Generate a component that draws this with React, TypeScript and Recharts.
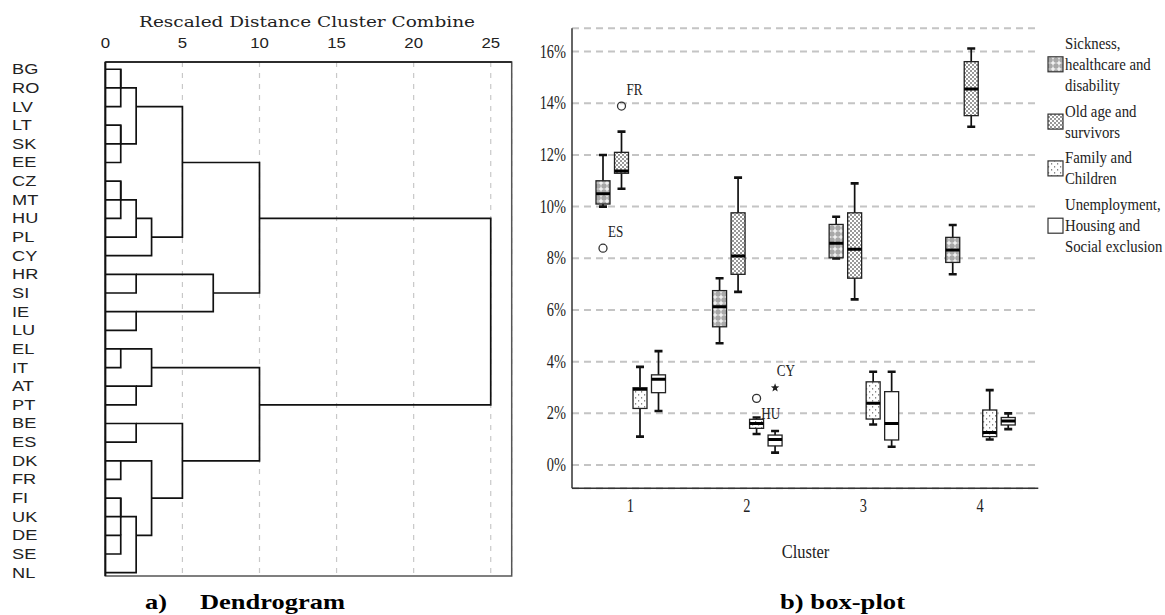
import React from 'react';
import {
  ScatterChart,
  Scatter,
  XAxis,
  YAxis,
  CartesianGrid,
  ReferenceArea,
  ComposedChart,
  Bar,
} from 'recharts';

// ---------------- Dendrogram data ----------------
const countries = ['BG', 'RO', 'LV', 'LT', 'SK', 'EE', 'CZ', 'MT', 'HU', 'PL', 'CY', 'HR', 'SI', 'IE', 'LU', 'EL', 'IT', 'AT', 'PT', 'BE', 'ES', 'DK', 'FR', 'FI', 'UK', 'DE', 'SE', 'NL'];
// agglomeration schedule: '#n' refers to the n-th merge
const mergeLeft = ['BG', '#0', 'LT', '#2', '#1', 'CZ', '#5', '#6', '#7', '#4', 'HR', 'IE', '#10', '#9', 'EL', 'AT', '#14', 'BE', 'DK', 'FI', 'DE', '#19', '#21', '#18', '#17', '#16', '#13'];
const mergeRight = ['RO', 'LV', 'SK', 'EE', '#3', 'MT', 'HU', 'PL', 'CY', '#8', 'SI', 'LU', '#11', '#12', 'IT', 'PT', '#15', 'ES', 'FR', 'UK', 'SE', '#20', 'NL', '#22', '#23', '#24', '#25'];
const mergeDistance = [1, 1, 1, 1, 2, 1, 1, 2, 3, 5, 2, 2, 7, 10, 1, 2, 3, 2, 1, 1, 1, 1, 2, 3, 5, 10, 25];
const distanceTicks = [0, 5, 10, 15, 20, 25];

// ---------------- Box-plot data ----------------
const clusters = ['1', '2', '3', '4'];
const sickLow = [10.0, 4.71, 7.99, 7.38];
const sickQ1 = [10.1, 5.35, 8.02, 7.84];
const sickMed = [10.5, 6.13, 8.58, 8.32];
const sickQ3 = [11.0, 6.75, 9.31, 8.81];
const sickHigh = [12.0, 7.23, 9.61, 9.29];

const oldLow = [10.69, 6.7, 6.41, 13.09];
const oldQ1 = [11.29, 7.38, 7.23, 13.52];
const oldMed = [11.38, 8.09, 8.35, 14.55];
const oldQ3 = [12.1, 9.76, 9.76, 15.61];
const oldHigh = [12.9, 11.12, 10.9, 16.12];

const famLow = [1.1, 1.2, 1.57, 0.99];
const famQ1 = [2.19, 1.42, 1.78, 1.1];
const famMed = [2.93, 1.61, 2.39, 1.26];
const famQ3 = [2.99, 1.77, 3.22, 2.13];
const famHigh = [3.8, 1.84, 3.61, 2.9];

const unLow = [2.09, 0.48, 0.71, 1.39];
const unQ1 = [2.8, 0.74, 0.97, 1.55];
const unMed = [3.32, 0.99, 1.61, 1.7];
const unQ3 = [3.49, 1.16, 2.84, 1.84];
const unHigh = [4.41, 1.32, 3.61, 2.0];

const outlierSeries = ['sick', 'old', 'fam', 'unemp'];
const outlierCluster = [0, 0, 1, 1];
const outlierValue = [8.39, 13.89, 2.58, 2.99];
const outlierLabel = ['ES', 'FR', 'HU', 'CY'];
const outlierKind = ['circle', 'circle', 'circle', 'star'];
// label placement (style): offset of label start / center from marker
const outlierLabelOffset = [[5, -16.6], [5, -16.7], [4.7, 15], [1.7, -17]];

const pctTicks = [0, 2, 4, 6, 8, 10, 12, 14, 16];
const legendLines = [
  ['Sickness,', 'healthcare and', 'disability'],
  ['Old age and', 'survivors'],
  ['Family and', 'Children'],
  ['Unemployment,', 'Housing and', 'Social exclusion'],
];

// ---------------- Derived structures ----------------
const nodeRow: number[] = [];
const nodeX: number[] = [];
function nodePos(ref: string) {
  if (ref.startsWith('#')) {
    const i = Number(ref.slice(1));
    return { x: nodeX[i], y: nodeRow[i] };
  }
  return { x: 0, y: countries.indexOf(ref) };
}
const links = mergeLeft.map((a, i) => {
  const pa = nodePos(a);
  const pb = nodePos(mergeRight[i]);
  const d = mergeDistance[i];
  nodeRow[i] = Math.floor((pa.y + pb.y) / 2);
  nodeX[i] = d;
  return [
    { x: pa.x, y: pa.y },
    { x: d, y: pa.y },
    { x: d, y: pb.y },
    { x: pb.x, y: pb.y },
  ];
});
const leafRows = countries.map((_, i) => i);

const mk = (lo: number[], q1: number[], md: number[], q3: number[], hi: number[], i: number) => ({
  low: lo[i], q1: q1[i], med: md[i], q3: q3[i], high: hi[i],
});
const boxRows = clusters.map((c, i) => ({
  cluster: c,
  sick: mk(sickLow, sickQ1, sickMed, sickQ3, sickHigh, i),
  old: mk(oldLow, oldQ1, oldMed, oldQ3, oldHigh, i),
  fam: mk(famLow, famQ1, famMed, famQ3, famHigh, i),
  unemp: mk(unLow, unQ1, unMed, unQ3, unHigh, i),
}));
const outliers = outlierSeries.map((s, i) => ({
  series: s,
  cluster: outlierCluster[i],
  value: outlierValue[i],
  label: outlierLabel[i],
  kind: outlierKind[i],
  off: outlierLabelOffset[i],
}));

const SERIF = "'Liberation Serif', 'Times New Roman', serif";
const SANS = "'Liberation Sans', Arial, sans-serif";

function starPath(cx: number, cy: number, r: number) {
  const pts: string[] = [];
  for (let k = 0; k < 10; k++) {
    const rr = k % 2 === 0 ? r : r * 0.42;
    const a = -Math.PI / 2 + (k * Math.PI) / 5;
    pts.push(`${(cx + rr * Math.cos(a)).toFixed(2)},${(cy + rr * Math.sin(a)).toFixed(2)}`);
  }
  return 'M' + pts.join('L') + 'Z';
}

function boxShape(key: string, fill: string) {
  return (props: any) => {
    const { x, y, width, height, payload, index } = props;
    const s = payload[key];
    if (!s || x == null) return <g />;
    const top = Math.min(y, y + height);
    const bottom = Math.max(y, y + height);
    const k = (bottom - top) / (s.high - s.low);
    const Y = (v: number) => bottom - (v - s.low) * k;
    const cx = x + width / 2;
    const outs = outliers.filter((o) => o.series === key && o.cluster === index);
    return (
      <g>
        <line x1={cx} x2={cx} y1={Y(s.high)} y2={Y(s.low)} stroke="#111" strokeWidth={1.7} />
        <line x1={cx - 4} x2={cx + 4} y1={Y(s.high)} y2={Y(s.high)} stroke="#111" strokeWidth={2.6} />
        <line x1={cx - 4} x2={cx + 4} y1={Y(s.low)} y2={Y(s.low)} stroke="#111" strokeWidth={2.6} />
        <rect x={x} y={Y(s.q3)} width={width} height={Math.max(1, Y(s.q1) - Y(s.q3))} fill={fill} stroke="#222" strokeWidth={1.3} />
        <line x1={x} x2={x + width} y1={Y(s.med)} y2={Y(s.med)} stroke="#000" strokeWidth={3} />
        {outs.map((o, j) => {
          const oy = Y(o.value);
          return (
            <g key={j}>
              {o.kind === 'circle' ? (
                <circle cx={cx} cy={oy} r={4} fill="none" stroke="#333" strokeWidth={1.3} />
              ) : (
                <path d={starPath(cx, oy, 4.5)} fill="#222" />
              )}
              <text
                transform={`translate(${cx + o.off[0]},${oy + o.off[1] + 5.5}) scale(0.82,1)`}
                fontFamily={SERIF}
                fontSize={16}
                fill="#222"
              >
                {o.label}
              </text>
            </g>
          );
        })}
      </g>
    );
  };
}

const DTick = (props: any) => {
  const { x, y, payload } = props;
  return (
    <text transform={`translate(${x},${y - 14}) scale(1.2,1)`} textAnchor="middle" fontFamily={SANS} fontSize={14} fill="#222">
      {payload.value}
    </text>
  );
};
const LeafTick = (props: any) => {
  const { y, payload } = props;
  return (
    <text transform={`translate(12,${y + 5}) scale(1.3,1)`} textAnchor="start" fontFamily={SANS} fontSize={14} fill="#222">
      {countries[payload.value]}
    </text>
  );
};
const PctTick = (props: any) => {
  const { x, y, payload } = props;
  return (
    <text transform={`translate(${x},${y + 6}) scale(0.8,1)`} textAnchor="end" fontFamily={SERIF} fontSize={18} fill="#222">
      {payload.value}%
    </text>
  );
};
const ClusterTick = (props: any) => {
  const { x, y, payload } = props;
  return (
    <text transform={`translate(${x},${y + 24}) scale(0.8,1)`} textAnchor="middle" fontFamily={SERIF} fontSize={18} fill="#222">
      {payload.value}
    </text>
  );
};

function Patterns({ prefix }: { prefix: string }) {
  return (
    <defs>
      <pattern id={`${prefix}Sick`} width="6" height="6" patternUnits="userSpaceOnUse">
        <rect width="6" height="6" fill="#a8a8a8" />
        <rect x="2.4" y="0.6" width="1.2" height="4.8" fill="#fff" />
        <rect x="0.6" y="2.4" width="4.8" height="1.2" fill="#fff" />
      </pattern>
      <pattern id={`${prefix}Old`} width="4" height="4" patternUnits="userSpaceOnUse">
        <rect width="4" height="4" fill="#fff" />
        <rect width="2" height="2" fill="#999" />
        <rect x="2" y="2" width="2" height="2" fill="#999" />
      </pattern>
      <pattern id={`${prefix}Fam`} width="6" height="6" patternUnits="userSpaceOnUse">
        <rect width="6" height="6" fill="#fff" />
        <rect x="1" y="1" width="1.2" height="1.6" fill="#888" />
        <rect x="4" y="4" width="1.2" height="1.6" fill="#888" />
      </pattern>
    </defs>
  );
}

const seriesKeys = ['sick', 'old', 'fam', 'unemp'];
const chartFills = ['url(#cSick)', 'url(#cOld)', 'url(#cFam)', '#ffffff'];
const legendFills = ['url(#lSick)', 'url(#lOld)', 'url(#lFam)', '#ffffff'];

export default function App() {
  const frame = { stroke: '#333', strokeWidth: 1.5 };
  // legend layout
  let cursor = 43.3;
  const legendItems = legendLines.map((lines, i) => {
    const ys = lines.map((_, j) => cursor + j * 21);
    cursor = ys[ys.length - 1] + 21 + 4.8;
    return { lines, ys, center: (ys[0] + ys[ys.length - 1]) / 2, fill: legendFills[i] };
  });

  return (
    <div style={{ position: 'absolute', left: 0, top: 0, width: 1165, height: 615, background: '#fff', overflow: 'hidden' }}>
      <div style={{ position: 'absolute', left: 0, top: 0 }}>
        <ScatterChart width={520} height={600} margin={{ top: 32, right: 8.3, bottom: 24, left: 5.33 }}>
          <CartesianGrid horizontal={false} stroke="#c8c8c8" strokeDasharray="5 6" strokeWidth={1.2} />
          <XAxis
            type="number"
            dataKey="x"
            orientation="top"
            height={30}
            domain={[0, 26.36]}
            ticks={distanceTicks}
            allowDataOverflow
            tickSize={0}
            tickMargin={0}
            tick={(p: any) => <DTick {...p} />}
            axisLine={{ stroke: '#111', strokeWidth: 1.5 }}
          />
          <YAxis
            type="number"
            dataKey="y"
            width={100}
            domain={[-0.39, 27.18]}
            reversed
            ticks={leafRows}
            interval={0}
            allowDataOverflow
            tickSize={0}
            tick={(p: any) => <LeafTick {...p} />}
            axisLine={{ stroke: '#111', strokeWidth: 2 }}
          />
          <ReferenceArea x1={0} x2={26.36} y1={-0.39} y2={27.18} fill="none" fillOpacity={0} stroke="#555" strokeWidth={1.5} />
          {links.map((pts, i) => (
            <Scatter
              key={i}
              data={pts}
              line={{ stroke: '#111', strokeWidth: 1.7 }}
              shape={() => <g />}
              isAnimationActive={false}
              legendType="none"
            />
          ))}
        </ScatterChart>
      </div>

      <div style={{ position: 'absolute', left: 520, top: 0 }}>
        <ComposedChart width={645} height={615} data={boxRows} margin={{ top: 28.3, right: 126.7, bottom: 86.7, left: 2 }} barGap={4.5}>
          <Patterns prefix="c" />
          <CartesianGrid vertical={false} stroke="#c4c4c4" strokeWidth={2} strokeDasharray="7 5" />
          <XAxis dataKey="cluster" height={40} tickSize={0} tickMargin={0} tick={(p: any) => <ClusterTick {...p} />} axisLine={frame} />
          <XAxis xAxisId="top" dataKey="cluster" orientation="top" height={0} tick={false} tickLine={false} axisLine={frame} />
          <YAxis
            width={50}
            type="number"
            domain={[-0.9, 16.9]}
            ticks={pctTicks}
            interval={0}
            allowDataOverflow
            tickSize={0}
            tickMargin={6}
            tick={(p: any) => <PctTick {...p} />}
            axisLine={frame}
          />
          <YAxis yAxisId="right" orientation="right" width={0} type="number" domain={[-0.9, 16.9]} allowDataOverflow tick={false} tickLine={false} axisLine={frame} />
          {seriesKeys.map((k, i) => (
            <Bar
              key={k}
              dataKey={(d: any) => [d[k].low, d[k].high]}
              barSize={14}
              fill={chartFills[i]}
              shape={boxShape(k, chartFills[i])}
              isAnimationActive={false}
            />
          ))}
        </ComposedChart>
      </div>

      <svg width={1165} height={615} style={{ position: 'absolute', left: 0, top: 0, pointerEvents: 'none' }}>
        <Patterns prefix="l" />
        <text x={307} y={26.5} textAnchor="middle" textLength={336} lengthAdjust="spacingAndGlyphs" fontFamily="'DejaVu Serif', serif" fontSize={15} fill="#222">
          Rescaled Distance Cluster Combine
        </text>
        <text x={145} y={609} textLength={22} lengthAdjust="spacingAndGlyphs" fontFamily={SERIF} fontWeight="bold" fontSize={22} fill="#000">
          a)
        </text>
        <text x={200} y={609} textLength={145} lengthAdjust="spacingAndGlyphs" fontFamily={SERIF} fontWeight="bold" fontSize={22} fill="#000">
          Dendrogram
        </text>
        <text x={780} y={609} textLength={125} lengthAdjust="spacingAndGlyphs" fontFamily={SERIF} fontWeight="bold" fontSize={22} fill="#000">
          b) box-plot
        </text>
        <text x={781.7} y={558} textLength={47.6} lengthAdjust="spacingAndGlyphs" fontFamily={SERIF} fontSize={19} fill="#222">
          Cluster
        </text>
        {legendItems.map((it, i) => (
          <g key={i}>
            <rect x={1048} y={it.center - 7.5} width={15} height={15} fill={it.fill} stroke="#333" strokeWidth={1.2} />
            {it.lines.map((ln, j) => (
              <text key={j} transform={`translate(1065,${it.ys[j] + 5.5}) scale(0.87,1)`} fontFamily={SERIF} fontSize={17} fill="#222">
                {ln}
              </text>
            ))}
          </g>
        ))}
      </svg>
    </div>
  );
}
